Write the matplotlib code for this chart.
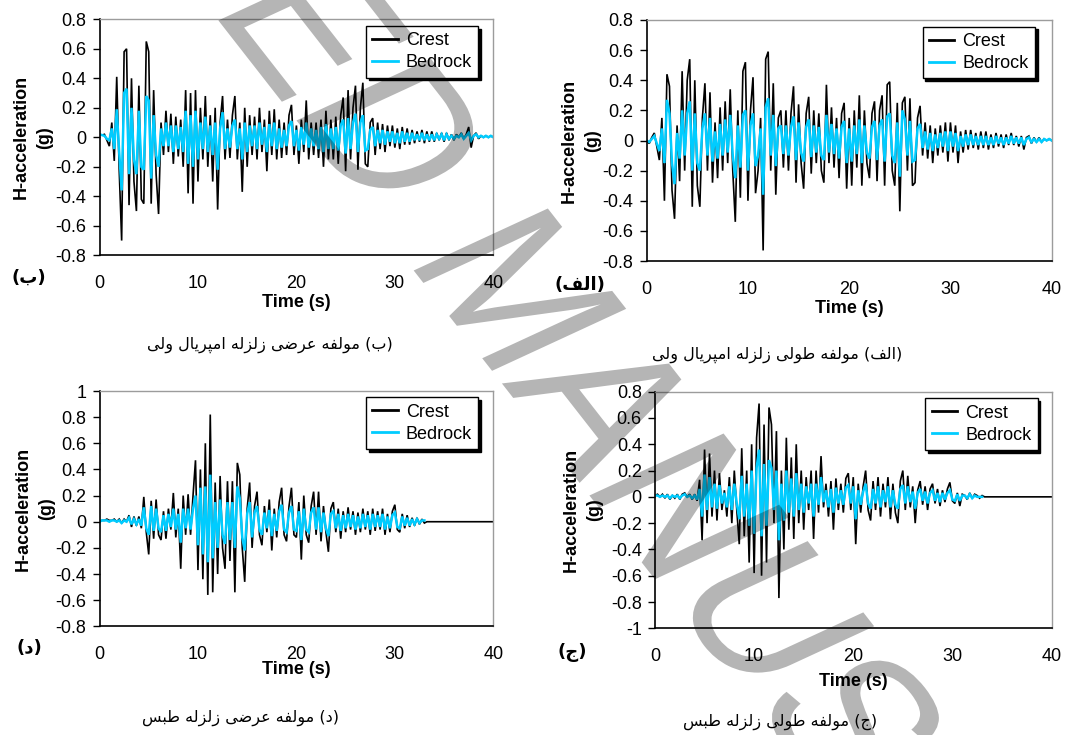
import numpy as np
import matplotlib
matplotlib.use("Agg")
import matplotlib.pyplot as plt
from matplotlib.ticker import MultipleLocator, FuncFormatter
from matplotlib.textpath import TextPath, text_to_path
from matplotlib.patches import PathPatch
from matplotlib.font_manager import FontProperties
from matplotlib.transforms import Affine2D

plt.rcParams["font.family"] = ["Liberation Sans", "DejaVu Sans"]
plt.rcParams["axes.unicode_minus"] = False

# ---------------------------------------------------------------------------
# Digitised acceleration records (g), sampled every DT seconds from t = 0
# ---------------------------------------------------------------------------
DT = 0.25

# Imperial Valley - transverse component
iv_tr_crest = [
    0.02, 0.015, 0.02, -0.02, -0.06, 0.10, -0.16, 0.41, -0.22, -0.70, 0.58, 0.60, -0.46, 0.40, -0.30, -0.50, 0.35, -0.42, -0.45, 0.65,
    0.58, -0.45, 0.32, -0.25, -0.52, 0.10, -0.12, 0.18, -0.10, 0.16, -0.18, 0.14, -0.13, 0.12, -0.20, 0.32, -0.38, 0.30, -0.45, 0.32,
    -0.30, 0.20, -0.15, 0.28, -0.20, 0.15, -0.30, 0.20, -0.49, 0.10, 0.28, -0.15, 0.12, -0.14, 0.15, 0.28, -0.15, 0.10, -0.37, 0.20,
    -0.20, 0.15, -0.12, 0.14, -0.15, 0.20, -0.10, 0.12, -0.23, 0.18, -0.12, 0.19, -0.15, 0.12, -0.14, 0.10, -0.12, 0.15, 0.22, -0.12,
    0.08, -0.18, 0.12, -0.10, 0.25, -0.15, 0.10, -0.12, 0.10, -0.14, 0.12, -0.20, 0.18, -0.15, 0.12, -0.15, 0.14, -0.18, 0.15, 0.27,
    -0.23, 0.32, -0.15, 0.20, 0.35, -0.22, 0.20, 0.37, -0.18, -0.20, 0.10, 0.13, -0.12, 0.10, -0.08, 0.09, -0.10, 0.08, -0.06, 0.08,
    -0.07, 0.06, -0.08, 0.07, -0.05, 0.06, -0.05, 0.05, -0.04, 0.04, -0.03, 0.05, -0.04, 0.04, -0.03, 0.04, -0.03, 0.03, -0.02, 0.03,
    -0.03, 0.03, -0.02, 0.02, -0.02, 0.02, 0.00, 0.03, -0.01, 0.02, 0.07, -0.07, 0.01, 0.03, -0.01, 0.01, 0.00, 0.01, 0.00, 0.01, 0.00,
]
iv_tr_bedrock = [
    0.02, 0.015, 0.01, -0.01, -0.02, 0.06, -0.08, 0.19, -0.10, -0.36, 0.30, 0.33, -0.25, 0.20, -0.15, -0.25, 0.18, -0.20, -0.22, 0.28,
    0.25, -0.28, 0.15, -0.12, -0.20, 0.06, -0.06, 0.10, -0.06, 0.08, -0.10, 0.08, -0.08, 0.07, -0.10, 0.18, -0.18, 0.15, -0.20, 0.18,
    -0.15, 0.10, -0.08, 0.14, -0.10, 0.08, -0.12, 0.10, -0.22, 0.06, 0.17, -0.08, 0.06, -0.07, 0.08, 0.12, -0.08, 0.06, -0.15, 0.10,
    -0.10, 0.08, -0.06, 0.08, -0.08, 0.10, -0.05, 0.07, -0.10, 0.09, -0.06, 0.10, -0.08, 0.06, -0.07, 0.05, -0.06, 0.08, 0.11, -0.06,
    0.05, -0.09, 0.07, -0.05, 0.10, -0.07, 0.06, -0.06, 0.05, -0.08, 0.07, -0.10, 0.09, -0.08, 0.06, -0.08, 0.07, -0.09, 0.08, 0.12,
    -0.11, 0.13, -0.08, 0.10, 0.16, -0.10, 0.10, 0.15, -0.09, -0.08, 0.05, 0.07, -0.06, 0.05, -0.04, 0.05, -0.05, 0.04, -0.03, 0.04,
    -0.04, 0.03, -0.04, 0.04, -0.03, 0.03, -0.03, 0.03, -0.02, 0.02, -0.02, 0.03, -0.02, 0.02, -0.02, 0.02, -0.02, 0.02, -0.01, 0.02,
    -0.02, 0.02, -0.01, 0.01, -0.01, 0.01, 0.00, 0.02, -0.01, 0.01, 0.03, -0.02, 0.01, 0.02, 0.00, 0.01, 0.00, 0.01, 0.00, 0.01, 0.00,
]

# Imperial Valley - longitudinal component
iv_lo_crest = [
    0.00, -0.02, 0.02, 0.05, -0.04, -0.13, 0.15, -0.40, 0.44, 0.36, -0.33, -0.52, 0.10, -0.27, 0.46, -0.20, 0.40, 0.54, -0.44, 0.40,
    -0.30, -0.44, 0.15, 0.38, -0.20, 0.32, -0.28, 0.12, -0.25, 0.22, -0.20, 0.26, -0.15, 0.34, -0.20, -0.54, 0.20, -0.38, 0.46, 0.52,
    -0.40, 0.20, 0.42, -0.35, -0.20, 0.15, -0.73, 0.54, 0.59, -0.20, 0.38, -0.36, 0.15, 0.20, -0.18, 0.20, -0.20, 0.18, 0.36, -0.28,
    0.24, -0.15, -0.32, 0.18, 0.29, -0.22, 0.20, -0.15, 0.18, -0.20, -0.28, 0.37, -0.15, 0.22, -0.18, 0.15, -0.25, 0.18, 0.25, -0.32,
    0.15, -0.30, 0.20, -0.18, 0.30, -0.30, 0.20, -0.15, -0.25, 0.18, 0.26, -0.27, 0.20, 0.30, -0.30, 0.37, 0.39, -0.20, -0.30, 0.25,
    -0.47, 0.25, 0.29, -0.20, 0.28, -0.30, -0.28, 0.15, 0.23, -0.10, 0.12, -0.12, 0.10, -0.15, 0.08, -0.10, 0.10, -0.08, 0.12, -0.14,
    0.12, -0.08, 0.10, -0.15, 0.06, -0.08, 0.07, -0.06, 0.07, -0.05, 0.05, -0.06, 0.06, -0.05, 0.06, -0.06, 0.04, -0.05, 0.05, -0.04,
    0.04, -0.05, 0.04, -0.03, 0.05, -0.03, 0.03, -0.04, 0.03, -0.06, 0.02, 0.03, -0.02, 0.02, -0.01, 0.02, -0.01, 0.01, 0.00, 0.01, 0.00,
]
iv_lo_bedrock = [
    0.00, -0.01, 0.01, 0.03, -0.02, -0.07, 0.08, -0.15, 0.27, 0.18, -0.15, -0.29, 0.05, -0.12, 0.20, -0.10, 0.18, 0.26, -0.20, 0.18,
    -0.15, -0.20, 0.08, 0.18, -0.10, 0.15, -0.14, 0.06, -0.12, 0.11, -0.10, 0.14, -0.08, 0.17, -0.10, -0.25, 0.10, -0.18, 0.17, 0.20,
    -0.20, 0.10, 0.18, -0.17, -0.10, 0.08, -0.36, 0.22, 0.28, -0.10, 0.17, -0.17, 0.08, 0.10, -0.09, 0.10, -0.10, 0.09, 0.16, -0.13,
    0.12, -0.08, -0.14, 0.09, 0.14, -0.11, 0.10, -0.08, 0.09, -0.10, -0.13, 0.17, -0.08, 0.11, -0.09, 0.08, -0.12, 0.09, 0.13, -0.15,
    0.08, -0.14, 0.10, -0.09, 0.14, -0.15, 0.10, -0.08, -0.12, 0.09, 0.13, -0.13, 0.10, 0.14, -0.14, 0.16, 0.18, -0.10, -0.15, 0.12,
    -0.24, 0.20, 0.14, -0.10, 0.13, -0.14, -0.13, 0.08, 0.11, -0.05, 0.06, -0.06, 0.05, -0.07, 0.04, -0.05, 0.05, -0.04, 0.06, -0.07,
    0.06, -0.04, 0.05, -0.07, 0.03, -0.04, 0.04, -0.03, 0.04, -0.03, 0.03, -0.03, 0.03, -0.03, 0.03, -0.03, 0.02, -0.03, 0.03, -0.02,
    0.02, -0.03, 0.02, -0.02, 0.03, -0.02, 0.02, -0.02, 0.02, -0.03, 0.01, 0.02, -0.01, 0.01, -0.01, 0.01, -0.01, 0.01, 0.00, 0.01, 0.00,
]

# Tabas - transverse component
tb_tr_crest = [
    0.00, 0.01, 0.01, 0.02, 0.01, 0.01, 0.02, 0.00, 0.02, -0.01, 0.02, 0.00, 0.05, -0.04, 0.04, -0.03, 0.04, -0.05, 0.19, -0.08,
    -0.25, 0.16, -0.13, 0.17, -0.10, -0.14, 0.08, -0.13, 0.10, -0.06, 0.22, -0.12, 0.10, -0.36, 0.20, -0.10, 0.21, -0.10, 0.20, 0.47,
    -0.37, 0.40, -0.44, 0.60, -0.56, 0.82, -0.54, 0.30, -0.40, 0.35, -0.20, -0.36, 0.31, -0.30, 0.31, -0.54, 0.45, 0.36, -0.20, -0.46,
    0.10, 0.30, -0.20, 0.12, 0.23, -0.10, -0.18, 0.12, -0.08, 0.17, -0.22, 0.10, -0.12, 0.15, 0.26, -0.10, -0.15, 0.12, 0.26, -0.10,
    -0.12, 0.15, -0.29, 0.20, -0.10, -0.16, 0.12, 0.23, -0.10, 0.23, -0.15, 0.12, -0.08, -0.23, 0.10, 0.15, -0.08, 0.10, -0.13, 0.08,
    -0.08, 0.11, -0.06, 0.08, -0.10, 0.07, -0.08, 0.10, -0.06, 0.08, -0.10, 0.10, -0.07, 0.08, -0.06, 0.10, -0.10, 0.06, -0.08, 0.08,
    0.13, -0.06, -0.08, 0.06, -0.05, 0.05, -0.04, 0.03, -0.03, 0.03, -0.02, 0.02, -0.01, 0.00, 0.00, 0.00, 0.00, 0.00, 0.00, 0.00,
    0.00, 0.00, 0.00, 0.00, 0.00, 0.00, 0.00, 0.00, 0.00, 0.00, 0.00, 0.00, 0.00, 0.00, 0.00, 0.00, 0.00, 0.00, 0.00, 0.00, 0.00,
]
tb_tr_bedrock = [
    0.00, 0.01, 0.01, 0.01, 0.00, 0.01, 0.01, 0.00, 0.01, -0.01, 0.01, 0.00, 0.03, -0.02, 0.02, -0.02, 0.02, -0.03, 0.11, -0.05,
    -0.10, 0.12, -0.07, 0.10, -0.05, -0.08, 0.05, -0.07, 0.06, -0.04, 0.10, -0.06, 0.06, -0.16, 0.10, -0.05, 0.10, -0.06, 0.10, 0.20,
    -0.18, 0.26, -0.25, 0.27, -0.31, 0.36, -0.28, 0.15, -0.20, 0.17, -0.10, -0.17, 0.15, -0.14, 0.15, -0.20, 0.27, 0.18, -0.12, -0.22,
    0.06, 0.15, -0.12, 0.07, 0.12, -0.06, -0.10, 0.07, -0.05, 0.09, -0.11, 0.06, -0.07, 0.08, 0.13, -0.06, -0.08, 0.07, 0.12, -0.06,
    -0.07, 0.08, -0.14, 0.10, -0.06, -0.08, 0.07, 0.11, -0.06, 0.11, -0.08, 0.07, -0.05, -0.11, 0.06, 0.08, -0.05, 0.06, -0.07, 0.05,
    -0.05, 0.06, -0.04, 0.05, -0.06, 0.04, -0.05, 0.06, -0.04, 0.05, -0.06, 0.06, -0.04, 0.05, -0.04, 0.06, -0.06, 0.04, -0.05, 0.05,
    0.07, -0.04, -0.05, 0.04, -0.03, 0.03, -0.03, 0.02, -0.02, 0.02, -0.01, 0.01, 0.01,
]

# Tabas - longitudinal component
tb_lo_crest = [
    0.01, 0.02, 0.00, 0.02, -0.01, 0.02, -0.02, 0.01, -0.01, 0.02, -0.02, 0.02, 0.03, 0.00, 0.02, -0.02, 0.02, -0.03, 0.13, -0.33,
    0.36, -0.20, 0.33, -0.15, 0.20, -0.18, 0.18, -0.10, 0.05, -0.15, 0.15, -0.20, 0.20, -0.10, -0.36, 0.37, -0.30, 0.20, -0.50, 0.40,
    -0.58, 0.45, 0.71, -0.60, 0.55, -0.50, 0.68, 0.55, -0.20, 0.50, -0.77, 0.20, -0.40, 0.45, -0.25, 0.30, -0.32, 0.40, -0.20, 0.20,
    -0.25, 0.15, -0.10, 0.20, -0.32, 0.20, -0.12, 0.31, -0.08, 0.10, -0.15, 0.12, -0.25, 0.14, -0.10, 0.10, -0.12, 0.14, 0.18, -0.10,
    0.15, -0.36, 0.10, -0.12, 0.08, 0.20, -0.10, -0.18, 0.12, -0.10, 0.15, -0.15, 0.10, -0.08, 0.15, -0.17, 0.10, -0.12, -0.20, 0.12,
    0.20, -0.10, 0.16, -0.08, 0.08, -0.20, 0.05, 0.12, -0.06, 0.08, -0.10, 0.06, 0.10, -0.05, 0.06, -0.07, 0.05, -0.04, 0.06, 0.11,
    -0.03, -0.05, 0.03, -0.07, 0.02, 0.01, -0.02, 0.03, -0.01, 0.02, 0.01, -0.01, 0.01, 0.00, 0.00, 0.00, 0.00, 0.00, 0.00, 0.00,
    0.00, 0.00, 0.00, 0.00, 0.00, 0.00, 0.00, 0.00, 0.00, 0.00, 0.00, 0.00, 0.00, 0.00, 0.00, 0.00, 0.00, 0.00, 0.00, 0.00, 0.00,
]
tb_lo_bedrock = [
    0.01, 0.01, 0.00, 0.01, 0.00, 0.01, -0.01, 0.01, 0.00, 0.01, -0.01, 0.01, 0.02, 0.00, 0.01, -0.01, 0.01, -0.02, 0.06, -0.15,
    0.17, -0.10, 0.15, -0.08, 0.10, -0.09, 0.09, -0.05, 0.03, -0.08, 0.08, -0.10, 0.10, -0.05, -0.17, 0.16, -0.15, 0.10, -0.22, 0.20,
    -0.28, 0.22, 0.36, -0.30, 0.25, -0.22, 0.28, 0.22, -0.10, 0.20, -0.33, 0.10, -0.18, 0.20, -0.12, 0.14, -0.15, 0.18, -0.10, 0.10,
    -0.12, 0.08, -0.05, 0.10, -0.15, 0.10, -0.06, 0.15, -0.04, 0.05, -0.08, 0.06, -0.12, 0.07, -0.05, 0.05, -0.06, 0.07, 0.09, -0.05,
    0.08, -0.17, 0.05, -0.06, 0.04, 0.10, -0.05, -0.09, 0.06, -0.05, 0.08, -0.08, 0.05, -0.04, 0.08, -0.08, 0.05, -0.06, -0.09, 0.06,
    0.09, -0.05, 0.08, -0.04, 0.04, -0.09, 0.03, 0.06, -0.03, 0.04, -0.05, 0.03, 0.05, -0.03, 0.03, -0.04, 0.03, -0.02, 0.03, 0.05,
    -0.02, -0.03, 0.02, -0.03, 0.01, 0.01, -0.01, 0.02, -0.01, 0.01, 0.00, 0.00, 0.00,
]

series_names = ["Crest", "Bedrock"]
series_colors = ["black", "#00CCFF"]
series_widths = [1.2, 1.8]
time_ticks = [0, 10, 20, 30, 40]
y_title = "H-acceleration\n(g)"
x_title = "Time (s)"

caption_texts = [
    "(ب) مولفه عرضی زلزله امپریال ولی",
    "(الف) مولفه طولی زلزله امپریال ولی",
    "(د) مولفه عرضی زلزله طبس",
    "(ج) مولفه طولی زلزله طبس",
]
tag_texts = ["(ب)", "(الف)", "(د)", "(ج)"]
stamp_text = "ACCEPTED MANUSCRIPT"

# ---------------------------------------------------------------------------
# Minimal Persian shaping: contextual presentation forms + visual (LTR) order
# ---------------------------------------------------------------------------
FORMS = {  # isolated, final, initial, medial
    "ا": ("\uFE8D", "\uFE8E", None, None),
    "ب": ("\uFE8F", "\uFE90", "\uFE91", "\uFE92"),
    "پ": ("\uFB56", "\uFB57", "\uFB58", "\uFB59"),
    "ج": ("\uFE9D", "\uFE9E", "\uFE9F", "\uFEA0"),
    "د": ("\uFEA9", "\uFEAA", None, None),
    "ر": ("\uFEAD", "\uFEAE", None, None),
    "ز": ("\uFEAF", "\uFEB0", None, None),
    "س": ("\uFEB1", "\uFEB2", "\uFEB3", "\uFEB4"),
    "ض": ("\uFEBD", "\uFEBE", "\uFEBF", "\uFEC0"),
    "ط": ("\uFEC1", "\uFEC2", "\uFEC3", "\uFEC4"),
    "ع": ("\uFEC9", "\uFECA", "\uFECB", "\uFECC"),
    "ف": ("\uFED1", "\uFED2", "\uFED3", "\uFED4"),
    "ل": ("\uFEDD", "\uFEDE", "\uFEDF", "\uFEE0"),
    "م": ("\uFEE1", "\uFEE2", "\uFEE3", "\uFEE4"),
    "ه": ("\uFEE9", "\uFEEA", "\uFEEB", "\uFEEC"),
    "و": ("\uFEED", "\uFEEE", None, None),
    "ی": ("\uFBFC", "\uFBFD", "\uFBFE", "\uFBFF"),
}


def rtl(text):
    chars = list(text)
    shaped = []
    for i, c in enumerate(chars):
        if c not in FORMS:
            shaped.append(c)
            continue
        prev = chars[i - 1] if i > 0 else ""
        nxt = chars[i + 1] if i + 1 < len(chars) else ""
        join_prev = prev in FORMS and FORMS[prev][2] is not None
        join_next = nxt in FORMS and FORMS[c][2] is not None
        iso, fin, ini, med = FORMS[c]
        if join_prev and join_next:
            shaped.append(med)
        elif join_prev:
            shaped.append(fin)
        elif join_next:
            shaped.append(ini)
        else:
            shaped.append(iso)
    mirror = {"(": ")", ")": "("}
    return "".join(mirror.get(ch, ch) for ch in reversed(shaped))


# ---------------------------------------------------------------------------
# Layout
# ---------------------------------------------------------------------------
W, H = 1065, 735
fig = plt.figure(figsize=(W / 100, H / 100), dpi=100)


def fx(px):
    return px / W


def fy(py):
    return 1 - py / H


panels = [
    dict(crest=iv_tr_crest, bed=iv_tr_bedrock, box=(99.5, 19.3, 493.3, 255.3),
         ylim=(-0.8, 0.8), ylab_x=53, xlab_y=303, leg=(478.3, 26.0),
         cap=(270, 345), tag=(29, 278)),
    dict(crest=iv_lo_crest, bed=iv_lo_bedrock, box=(646.7, 20.0, 1051.7, 261.0),
         ylim=(-0.8, 0.8), ylab_x=601, xlab_y=308, leg=(1035.0, 26.7),
         cap=(777, 355), tag=(580, 285)),
    dict(crest=tb_tr_crest, bed=tb_tr_bedrock, box=(99.5, 391.0, 493.3, 626.3),
         ylim=(-0.8, 1.0), ylab_x=55, xlab_y=670, leg=(478.3, 397.3),
         cap=(240, 718), tag=(29, 648)),
    dict(crest=tb_lo_crest, bed=tb_lo_bedrock, box=(655.0, 391.7, 1051.5, 628.3),
         ylim=(-1.0, 0.8), ylab_x=603, xlab_y=681, leg=(1037.7, 398.3),
         cap=(780, 722), tag=(572, 653)),
]


def fmt(v, _pos):
    v = round(v, 1)
    return "0" if abs(v) < 1e-9 else f"{v:g}"


for k, p in enumerate(panels):
    l, t, r, b = p["box"]
    ax = fig.add_axes([fx(l), fy(b), (r - l) / W, (b - t) / H])
    wpx, hpx = r - l, b - t

    for vals, name, col, lw in zip((p["crest"], p["bed"]), series_names,
                                   series_colors, series_widths):
        tt = np.arange(len(vals)) * DT
        ax.plot(tt, vals, color=col, lw=lw, label=name, solid_joinstyle="miter")

    ax.set_xlim(0, 40)
    ax.set_ylim(*p["ylim"])
    ax.set_xticks(time_ticks)
    ax.yaxis.set_major_locator(MultipleLocator(0.2))
    ax.yaxis.set_major_formatter(FuncFormatter(fmt))
    ax.tick_params(axis="y", direction="out", length=5, width=1, pad=4.5,
                   labelsize=13, colors="black")
    ax.tick_params(axis="x", length=0, pad=14.5, labelsize=13)

    for side in ("left", "bottom"):
        ax.spines[side].set_color("black")
        ax.spines[side].set_linewidth(1.2)
    for side in ("top", "right"):
        ax.spines[side].set_color("#9c9c9c")
        ax.spines[side].set_linewidth(1.0)

    ax.set_ylabel(y_title, fontsize=13, fontweight="bold", linespacing=1.45)
    ax.yaxis.set_label_coords((p["ylab_x"] - l) / wpx, 0.5)
    ax.set_xlabel(x_title, fontsize=13, fontweight="bold")
    ax.xaxis.set_label_coords(0.5, (b - p["xlab_y"]) / hpx)
    ax.xaxis.label.set_va("center")

    lx, ly = p["leg"]
    leg = ax.legend(loc="upper right",
                    bbox_to_anchor=((lx - l) / wpx, 1 - (ly - t) / hpx),
                    borderaxespad=0, fontsize=13, frameon=True, fancybox=False,
                    framealpha=1, edgecolor="black", handlelength=1.4,
                    handletextpad=0.45, borderpad=0.35, labelspacing=0.28,
                    shadow={"facecolor": "black", "edgecolor": "black", "alpha": 1})
    for h in leg.get_lines():
        h.set_linewidth(2.0)

    cx, cy = p["cap"]
    fig.text(fx(cx), fy(cy), rtl(caption_texts[k]),
             family=["DejaVu Sans"], fontsize=11.5, ha="center", va="center")
    gx, gy = p["tag"]
    fig.text(fx(gx), fy(gy), rtl(tag_texts[k]),
             family=["DejaVu Sans"], fontsize=13, fontweight="bold",
             ha="center", va="center")

# ---------------------------------------------------------------------------
# Diagonal manuscript stamp over the page: rotated glyph outlines, widened
# horizontally, placed so that the "ED" of ACCEPTED enters at the top edge
# ---------------------------------------------------------------------------
EM = 175.0          # glyph size (px)
ANGLE = 59.0        # rotation before widening (deg, clockwise)
WIDEN = 1.3         # horizontal widening of the stamp
stamp_font = FontProperties(family="Liberation Sans", size=EM)
stamp_path = TextPath((0, 0), stamp_text, size=EM, prop=stamp_font)
lead_w, _, _ = text_to_path.get_text_width_height_descent(
    stamp_text[:6], stamp_font, ismath=False)

# corner of the first visible "E" (display px, origin bottom-left)
corner_x, corner_y = 218.0, H - 20.0
lsb = 0.079 * EM
ang = np.radians(ANGLE)
origin_x = corner_x - lsb * np.cos(ang) * WIDEN
origin_y = corner_y + lsb * np.sin(ang)

stamp_tf = (Affine2D().translate(-lead_w, 0).rotate_deg(-ANGLE)
            .scale(WIDEN, 1.0).translate(origin_x, origin_y))
stamp = PathPatch(stamp_path, transform=stamp_tf, facecolor="black",
                  edgecolor="none", alpha=0.29, zorder=20)
fig.add_artist(stamp)

fig.savefig("out.png", dpi=100)
